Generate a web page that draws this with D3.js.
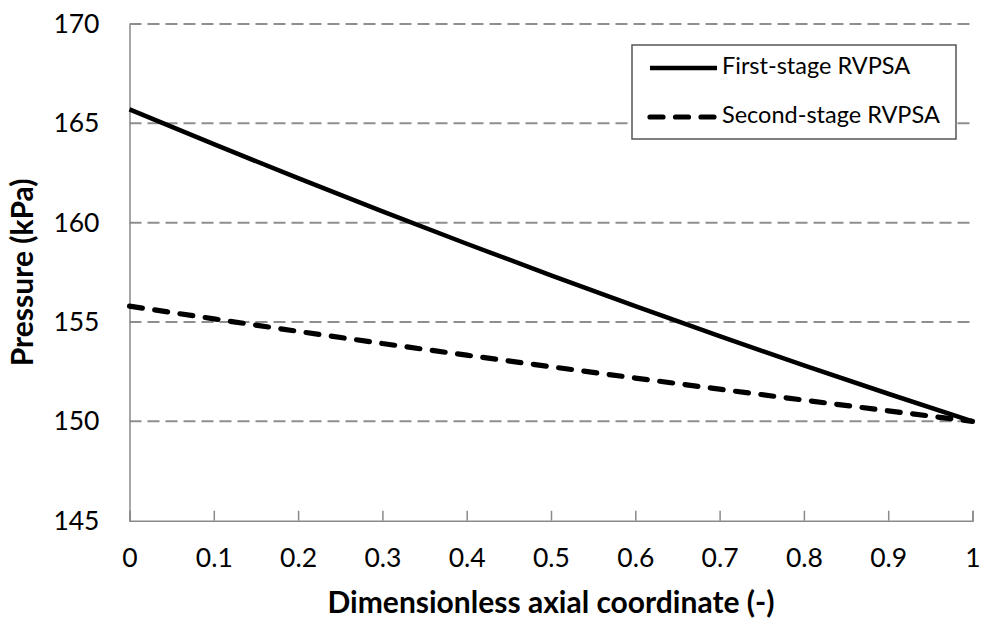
<!DOCTYPE html>
<html>
<head>
<meta charset="utf-8">
<script src="https://cdn.jsdelivr.net/npm/d3@7"></script>
<style>
  html, body { margin: 0; padding: 0; background: #fff; }
  svg { display: block; }
  text { font-family: Lato, "Open Sans", sans-serif; fill: #000; }
</style>
</head>
<body>
<svg id="chart" width="982" height="626"></svg>
<script>
// Dimensionless axial coordinate along the column
const axialCoord = [0, 0.1, 0.2, 0.3, 0.4, 0.5, 0.6, 0.7, 0.8, 0.9, 1.0];
// Pressure profiles (kPa)
const firstStage  = [165.7, 163.95, 162.24, 160.57, 158.94, 157.35, 155.80, 154.29, 152.82, 151.39, 150.0];
const secondStage = [155.8, 155.16, 154.53, 153.92, 153.33, 152.75, 152.18, 151.62, 151.07, 150.53, 150.0];
// Axis ticks
const xTicks = [0, 0.1, 0.2, 0.3, 0.4, 0.5, 0.6, 0.7, 0.8, 0.9, 1];
const yTicks = [145, 150, 155, 160, 165, 170];
const seriesNames = ["First-stage RVPSA", "Second-stage RVPSA"];

const svg = d3.select("#chart");
const plotLeft = 129.5, plotRight = 972.5, plotTop = 24, plotBottom = 520.7;

const x = d3.scaleLinear().domain([0, 1]).range([plotLeft, plotRight]);
const y = d3.scaleLinear().domain([145, 170]).range([plotBottom, plotTop]);

const gridColor = "#8e8e8e";
const axisColor = "#8a8a8a";

// Horizontal dashed gridlines (above the baseline)
svg.append("g")
  .selectAll("line")
  .data(yTicks.filter(d => d > 145))
  .join("line")
  .attr("x1", plotLeft).attr("x2", plotRight)
  .attr("y1", d => y(d)).attr("y2", d => y(d))
  .attr("stroke", gridColor)
  .attr("stroke-width", 2)
  .attr("stroke-dasharray", "12,6");

// Y axis: line and labels, no tick marks
const yAxis = svg.append("g")
  .attr("transform", `translate(${plotLeft},0)`)
  .call(d3.axisLeft(y).tickValues(yTicks).tickSize(0).tickPadding(30).tickFormat(d3.format("d")));
yAxis.select(".domain").attr("stroke", axisColor).attr("stroke-width", 1.5);
yAxis.selectAll("text")
  .style("font-family", "Lato, 'Open Sans', sans-serif")
  .style("font-size", "26.5px")
  .attr("fill", "#000");

// X axis: line, inward ticks and labels
const xAxis = svg.append("g")
  .attr("transform", `translate(0,${plotBottom})`)
  .call(d3.axisBottom(x).tickValues(xTicks).tickSize(-10).tickPadding(0).tickFormat(d => d3.format("")(d)));
xAxis.select(".domain").attr("stroke", axisColor).attr("stroke-width", 1.5);
xAxis.selectAll(".tick line").attr("stroke", axisColor).attr("stroke-width", 1.5);
xAxis.selectAll("text")
  .attr("y", 38)
  .attr("dy", "0.32em")
  .style("font-family", "Lato, 'Open Sans', sans-serif")
  .style("font-size", "26.5px")
  .attr("fill", "#000");

// Profiles
const line = d3.line()
  .x((d, i) => x(axialCoord[i]))
  .y(d => y(d))
  .curve(d3.curveMonotoneX);

svg.append("path")
  .datum(secondStage)
  .attr("d", line)
  .attr("fill", "none")
  .attr("stroke", "#000")
  .attr("stroke-width", 5.2)
  .attr("stroke-linecap", "round")
  .attr("stroke-dasharray", "13,12.5");

svg.append("path")
  .datum(firstStage)
  .attr("d", line)
  .attr("fill", "none")
  .attr("stroke", "#000")
  .attr("stroke-width", 4.5);

// Axis titles
svg.append("text")
  .attr("x", (plotLeft + plotRight) / 2)
  .attr("y", 605)
  .attr("text-anchor", "middle")
  .attr("dominant-baseline", "middle")
  .style("font-size", "30px")
  .style("font-weight", "bold")
  .text("Dimensionless axial coordinate (-)");

svg.append("text")
  .attr("transform", `translate(25,${(plotTop + plotBottom) / 2}) rotate(-90)`)
  .attr("text-anchor", "middle")
  .attr("dominant-baseline", "middle")
  .style("font-size", "30px")
  .style("font-weight", "bold")
  .text("Pressure (kPa)");

// Legend
const legend = svg.append("g");
legend.append("rect")
  .attr("x", 632).attr("y", 45)
  .attr("width", 324).attr("height", 94)
  .attr("fill", "#fff")
  .attr("stroke", "#555")
  .attr("stroke-width", 1.5);

const legendRows = [
  { name: seriesNames[0], dash: null, cy: 68 },
  { name: seriesNames[1], dash: "13,12.5", cy: 117 }
];
legendRows.forEach(r => {
  const l = legend.append("line")
    .attr("x1", 650).attr("x2", 717)
    .attr("y1", r.cy).attr("y2", r.cy)
    .attr("stroke", "#000")
    .attr("stroke-width", r.dash ? 5.2 : 4.5);
  if (r.dash) l.attr("stroke-dasharray", r.dash).attr("stroke-linecap", "round");
  legend.append("text")
    .attr("x", 722).attr("y", r.cy)
    .attr("dominant-baseline", "middle")
    .style("font-size", "23.5px")
    .text(r.name);
});
</script>
</body>
</html>
